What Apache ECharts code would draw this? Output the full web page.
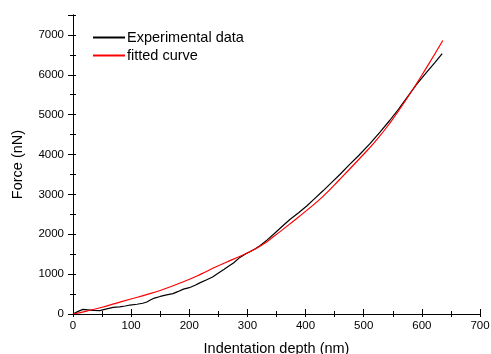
<!DOCTYPE html>
<html>
<head>
<meta charset="utf-8">
<script src="https://cdn.jsdelivr.net/npm/echarts@6/dist/echarts.min.js"></script>
<style>
  html, body { margin: 0; padding: 0; background: #fff; }
  #chart { width: 491px; height: 354px; }
</style>
</head>
<body>
<div id="chart"></div>
<script>
// 实验数据 (深度 nm, 力 nN)
const expDepth = [0, 8, 17, 25, 35, 46, 58, 69, 80, 90, 98, 110, 120, 127, 133, 140, 150, 161, 172, 180,
  190, 200, 210, 218, 230, 240, 247, 260, 270, 276, 287, 296, 305, 313, 322, 334, 345, 360, 373, 388,
  402, 416, 430, 445, 459, 475, 491, 510, 528, 545, 560, 574, 590, 608, 622, 635]
const expForce = [0, 60, 115, 105, 90, 85, 130, 165, 180, 200, 225, 245, 270, 300, 350, 400, 440, 478, 510, 560,
  625, 660, 720, 780, 860, 930, 1000, 1120, 1220, 1280, 1420, 1500, 1570, 1630, 1720, 1860, 2000, 2200, 2370, 2540,
  2710, 2900, 3090, 3300, 3500, 3740, 3970, 4260, 4560, 4860, 5140, 5420, 5740, 6060, 6300, 6530]

// 拟合曲线
const fitDepth = [0, 25, 50, 72, 98, 125, 150, 190, 220, 247, 275, 304, 325, 344, 373, 402, 430, 459, 491,
  520, 545, 574, 608, 636]
const fitForce = [0, 80, 170, 260, 370, 480, 590, 810, 1000, 1190, 1370, 1560, 1730, 1930, 2260, 2600, 2950, 3380, 3870,
  4330, 4790, 5400, 6180, 6860]

const chart = echarts.init(document.getElementById('chart'))

const font = 'Liberation Sans, Arial, sans-serif'
const lineStyle = { color: '#000', width: 1 }

const option = {
  animation: false,
  grid: { left: 73, right: 11, top: 15, bottom: 40, outerBoundsMode: 'none' },
  legend: {
    left: 88,
    top: 25,
    orient: 'vertical',
    itemWidth: 32,
    itemHeight: 2,
    itemGap: 3,
    icon: 'rect',
    textStyle: { fontFamily: font, fontSize: 14.5, color: '#000', padding: [0, 0, 0, -3] },
    data: ['Experimental data', 'fitted curve']
  },
  xAxis: [
    {
      type: 'value', min: 0, max: 700, interval: 100,
      name: 'Indentation depth (nm)', nameLocation: 'middle', nameGap: 27,
      nameTextStyle: { fontFamily: font, fontSize: 14.5, color: '#000' },
      axisLine: { lineStyle },
      axisTick: { inside: true, length: 5, lineStyle },
      minorTick: { show: true, splitNumber: 2, length: 3, lineStyle },
      axisLabel: { fontFamily: font, fontSize: 11.5, color: '#000', margin: 6, formatter: v => String(v) },
      splitLine: { show: false }
    },
    {
      type: 'value', position: 'top', min: 0, max: 700, interval: 50,
      axisLine: { lineStyle },
      axisTick: { inside: true, length: 3, lineStyle },
      axisLabel: { show: false },
      splitLine: { show: false }
    }
  ],
  yAxis: [
    {
      type: 'value', min: 0, max: 7500, interval: 1000,
      name: 'Force (nN)', nameLocation: 'middle', nameGap: 48,
      nameTextStyle: { fontFamily: font, fontSize: 14.5, color: '#000' },
      axisLine: { lineStyle },
      axisTick: { length: 5, lineStyle },
      minorTick: { show: true, splitNumber: 2, length: 3, lineStyle },
      axisLabel: { fontFamily: font, fontSize: 11.5, color: '#000', margin: 9, showMaxLabel: false, formatter: v => String(v) },
      splitLine: { show: false }
    },
    {
      type: 'value', position: 'right', min: 0, max: 7500, interval: 500,
      axisLine: { show: true, lineStyle },
      axisTick: { length: 3, lineStyle },
      axisLabel: { show: false },
      splitLine: { show: false }
    }
  ],
  series: [
    {
      name: 'Experimental data',
      type: 'line',
      showSymbol: false,
      lineStyle: { color: '#000', width: 1.2 },
      itemStyle: { color: '#000' },
      data: expDepth.map((d, i) => [d, expForce[i]])
    },
    {
      name: 'fitted curve',
      type: 'line',
      smooth: true,
      showSymbol: false,
      lineStyle: { color: '#ff0000', width: 1.2 },
      itemStyle: { color: '#ff0000' },
      data: fitDepth.map((d, i) => [d, fitForce[i]])
    }
  ]
}

chart.setOption(option)
</script>
</body>
</html>
